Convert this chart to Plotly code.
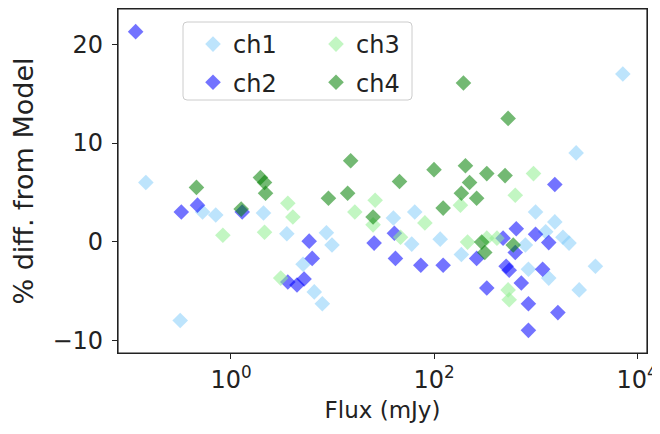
import plotly.graph_objects as go

# Flux (mJy) and % difference from model, per channel
ch1_flux = [0.145, 0.316, 0.525, 0.708, 2.09, 3.55, 5.13, 6.61, 7.94, 8.71, 9.89, 39.8, 60.3, 64.6,
            115, 186, 794, 851, 1000, 1259, 1349, 1549, 1862, 2138, 2512, 2692, 3890, 7244]
ch1_diff = [6.0, -8.0, 3.0, 2.7, 2.9, 0.8, -2.3, -5.1, -6.3, 0.9, -0.35, 2.4, -0.25, 3.0,
            0.25, -1.3, -0.35, -2.8, 3.0, 1.0, -3.7, 2.0, 0.45, -0.15, 9.0, -4.9, -2.5, 17.0]

ch2_flux = [0.115, 0.324, 0.468, 1.29, 3.63, 4.47, 5.25, 5.89, 6.31, 25.7, 40.7, 41.7, 74.1, 123,
            263, 331, 479, 513, 550, 631, 646, 724, 851, 851, 1000, 1175, 1349, 1549, 1660]
ch2_diff = [21.3, 3.0, 3.7, 3.0, -4.1, -4.4, -3.8, 0.05, -1.7, -0.15, 0.85, -1.7, -2.4, -2.4,
            -1.7, -4.7, 0.35, -2.5, -2.9, -1.1, 1.3, -4.2, -6.3, -9.0, 0.75, -2.8, -0.1, 5.8, -7.2]

ch3_flux = [0.832, 2.14, 3.09, 3.63, 4.07, 16.6, 25.1, 26.3, 46.8, 81.3, 182, 214, 331, 417,
            537, 550, 631, 955]
ch3_diff = [0.65, 0.95, -3.7, 3.9, 2.5, 3.0, 1.7, 4.2, 0.45, 1.9, 3.7, -0.05, 0.35, 0.35,
            -4.9, -5.9, 4.7, 6.9]

ch4_flux = [0.457, 1.26, 1.95, 2.14, 2.19, 9.12, 14.1, 15.1, 25.1, 45.7, 100, 123, 186, 195,
            204, 224, 263, 295, 316, 331, 501, 537, 603]
ch4_diff = [5.5, 3.3, 6.5, 6.0, 4.9, 4.4, 4.9, 8.2, 2.5, 6.1, 7.3, 3.4, 4.9, 16.1,
            7.7, 6.0, 4.4, -0.05, -1.1, 6.9, 6.7, 12.5, -0.35]

x_tickvals = [1, 100, 10000]
x_ticktext = ["10<sup>0</sup>", "10<sup>2</sup>", "10<sup>4</sup>"]
y_tickvals = [-10, 0, 10, 20]

FONT = "DejaVu Sans"
TXT = "#222"
fig = go.Figure()

def add(name, xs, ys, color, legend, group):
    fig.add_trace(go.Scatter(
        x=xs, y=ys, mode="markers", name=name, legend=legend, legendgroup=group,
        marker=dict(symbol="diamond", size=12, color=color, opacity=0.55,
                    line=dict(width=0)),
    ))

add("ch1", ch1_flux, ch1_diff, "#87CEFA", "legend", "a")
add("ch2", ch2_flux, ch2_diff, "#0000FF", "legend", "b")
add("ch3", ch3_flux, ch3_diff, "#90EE90", "legend2", "c")
add("ch4", ch4_flux, ch4_diff, "#008000", "legend2", "d")

# page has an 8px body margin; figure placed so that plot area is x 118..647, y 9..353
OFF = 8
W, H = 652, 426
L, R, T, B = 110, 13, 1, 81
pw, ph = W - L - R, H - T - B

def px(xp):
    return (xp - OFF - L) / pw

def py(yp):
    return (H - B - (yp - OFF)) / ph

# rounded legend frame
x0, x1, y0, y1 = px(183), px(412), py(100), py(22)
rx, ry = 4 / pw, 4 / ph
path = (f"M {x0+rx},{y0} L {x1-rx},{y0} Q {x1},{y0} {x1},{y0+ry} L {x1},{y1-ry} "
        f"Q {x1},{y1} {x1-rx},{y1} L {x0+rx},{y1} Q {x0},{y1} {x0},{y1-ry} "
        f"L {x0},{y0+ry} Q {x0},{y0} {x0+rx},{y0} Z")

legend_common = dict(font=dict(family=FONT, size=24, color=TXT), bgcolor="rgba(0,0,0,0)",
                     borderwidth=0, tracegroupgap=4, itemsizing="constant",
                     xanchor="left", yanchor="top", orientation="v")

fig.update_layout(
    width=W, height=H,
    margin=dict(l=L, r=R, t=T, b=B, autoexpand=False),
    paper_bgcolor="white", plot_bgcolor="white",
    font=dict(family=FONT, size=24, color=TXT),
    showlegend=True,
    legend=dict(x=px(193), y=py(22), **legend_common),
    legend2=dict(x=px(316), y=py(22), **legend_common),
    shapes=[
        dict(type="path", xref="paper", yref="paper", path=path,
             line=dict(color="#cccccc", width=1), fillcolor="white", layer="below"),
        dict(type="rect", xref="paper", yref="paper", x0=0, x1=1, y0=0, y1=1,
             line=dict(color=TXT, width=1.2), fillcolor="rgba(0,0,0,0)", layer="above"),
    ],
    xaxis=dict(
        type="log", range=[-1.113, 4.098], automargin=False,
        tickvals=x_tickvals, ticktext=x_ticktext,
        ticks="outside", ticklen=5, tickwidth=1, tickcolor=TXT,
        showline=True, linecolor=TXT, linewidth=1.2, mirror=True,
        showgrid=False, zeroline=False,
        tickfont=dict(family=FONT, size=24, color=TXT),
        title=dict(text="Flux (mJy)", font=dict(family=FONT, size=23, color=TXT), standoff=8),
    ),
    yaxis=dict(
        range=[-11.3, 23.6], automargin=False,
        tickvals=y_tickvals,
        ticks="outside", ticklen=5, tickwidth=1, tickcolor=TXT,
        showline=True, linecolor=TXT, linewidth=1.2, mirror=True,
        showgrid=False, zeroline=False,
        tickfont=dict(family=FONT, size=24, color=TXT),
        ticklabelstandoff=4,
        title=dict(text="% diff. from Model", font=dict(family=FONT, size=27, color=TXT), standoff=12),
    ),
)

fig.write_html("out.html")
